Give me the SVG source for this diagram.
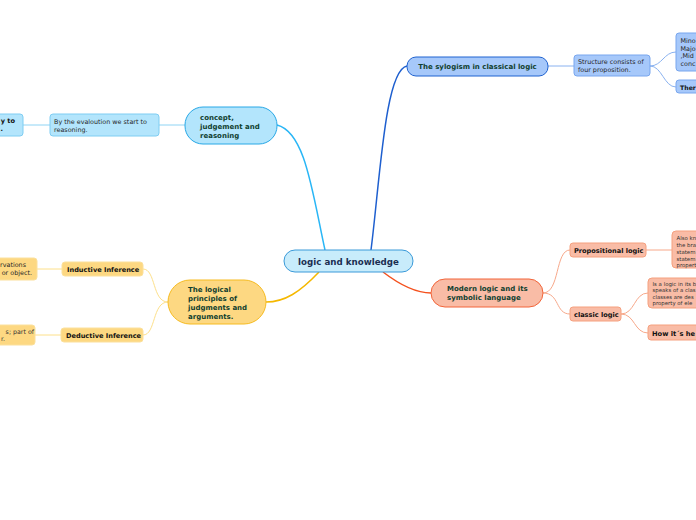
<svg xmlns="http://www.w3.org/2000/svg" width="696" height="520" viewBox="0 0 696 520">
<style>
text{font-family:"DejaVu Sans",Verdana,sans-serif}
.h{font-weight:bold;fill:#10402f;font-size:7px}
.b{font-weight:bold;fill:#111;font-size:6.6px}
.t{fill:#262626;font-size:6.4px}
.s{fill:#333;font-size:5.4px}
.blue{fill:#b3e5fc;stroke:#29a8e6;stroke-width:1}
.blue2{fill:#b3e5fc;stroke:#7fcdf2;stroke-width:1}
.dblue{fill:#a6c8fa;stroke:#1f62d0;stroke-width:1}
.dblue2{fill:#a6c8fa;stroke:#78a6ee;stroke-width:1}
.sal{fill:#f9bca6;stroke:#f2653a;stroke-width:1}
.sal2{fill:#f9bca6;stroke:#f5a07f;stroke-width:1}
.yel{fill:#fdd882;stroke:#f6bb20;stroke-width:1}
.yel2{fill:#fdd882;stroke:#fbe09c;stroke-width:1}
.c{fill:none}
</style>
<rect width="696" height="520" fill="#fff"/>
<g id="connectors" class="c">
<path d="M277,125 C305,132 312,190 325,250" stroke="#29b6f6" stroke-width="1.5"/>
<path d="M159,125 L185,125" stroke="#8fd4f4" stroke-width="1"/>
<path d="M23,125 L50,125" stroke="#8fd4f4" stroke-width="1"/>
<path d="M371,250 C380,180 385,70 407,66" stroke="#1e5fcf" stroke-width="1.5"/>
<path d="M548,66 L574,66" stroke="#8ab2f0" stroke-width="1"/>
<path d="M650,66 C662,66 664,52 676,52" stroke="#8ab2f0" stroke-width="1"/>
<path d="M650,66 C662,66 664,87 676,87" stroke="#8ab2f0" stroke-width="1"/>
<path d="M383,272 C400,285 415,293 431,293" stroke="#f4511e" stroke-width="1.5"/>
<path d="M543,293 C560,293 555,250 570,250" stroke="#f7a88a" stroke-width="1"/>
<path d="M543,293 C560,293 555,314 570,314" stroke="#f7a88a" stroke-width="1"/>
<path d="M646,250 L672,250" stroke="#f7a88a" stroke-width="1"/>
<path d="M621,314 C635,314 634,293 648,293" stroke="#f7a88a" stroke-width="1"/>
<path d="M621,314 C635,314 634,333 648,333" stroke="#f7a88a" stroke-width="1"/>
<path d="M319,272 C300,292 285,302 266,302" stroke="#f5b800" stroke-width="1.5"/>
<path d="M168,302 C152,302 156,269 143,269" stroke="#fde08a" stroke-width="1"/>
<path d="M168,302 C152,302 156,335 143,335" stroke="#fde08a" stroke-width="1"/>
<path d="M37,269 L62,269" stroke="#fde08a" stroke-width="1"/>
<path d="M35,335 L61,335" stroke="#fde08a" stroke-width="1"/>
</g>
<g id="center">
<rect x="284" y="250" width="129" height="22" rx="11" fill="#c8ecfb" stroke="#3a9ad9"/>
<text x="348.5" y="265" text-anchor="middle" style="font-weight:bold;font-size:8.7px;fill:#1c2f52">logic and knowledge</text>
</g>
<g id="concept">
<rect x="185" y="107" width="92" height="37" rx="18" class="blue"/>
<text class="h"><tspan x="200" y="120">concept,</tspan><tspan x="200" y="129">judgement and</tspan><tspan x="200" y="138">reasoning</tspan></text>
</g>
<g id="evaluation">
<rect x="50" y="114" width="109" height="22" rx="3" class="blue2"/>
<text class="t"><tspan x="54" y="124">By the evaloution we start to</tspan><tspan x="54" y="132">reasoning.</tspan></text>
</g>
<g id="leftcut1">
<rect x="-10" y="114" width="33" height="22" rx="3" class="blue2"/>
<text class="b" text-anchor="end"><tspan x="15" y="123">y to</tspan><tspan x="3" y="131">.</tspan></text>
</g>
<g id="syllogism">
<rect x="407" y="57" width="141" height="19" rx="9" class="dblue"/>
<text x="477.5" y="69" text-anchor="middle" class="h">The sylogism in classical logic</text>
</g>
<g id="structure">
<rect x="574" y="55" width="76" height="21" rx="3" class="dblue2"/>
<text class="t"><tspan x="578" y="64">Structure consists of</tspan><tspan x="578" y="72">four  proposition.</tspan></text>
</g>
<g id="minor">
<rect x="676" y="33" width="40" height="38" rx="3" class="dblue2"/>
<text class="t"><tspan x="680.5" y="43">Mino</tspan><tspan x="680.5" y="51">Majo</tspan><tspan x="680.5" y="58">,Mid</tspan><tspan x="680.5" y="66">conc</tspan></text>
</g>
<g id="ther">
<rect x="676" y="80" width="40" height="13" rx="3" class="dblue2"/>
<text x="680" y="89.5" class="b" style="font-size:6.2px">Ther</text>
</g>
<g id="modern">
<rect x="431" y="279" width="112" height="28" rx="14" class="sal"/>
<text class="h"><tspan x="447" y="291">Modern logic and its</tspan><tspan x="447" y="300">symbolic language</tspan></text>
</g>
<g id="propositional">
<rect x="570" y="243" width="76" height="14" rx="3" class="sal2"/>
<text x="574" y="252.5" class="b">Propositional logic</text>
</g>
<g id="alsoknown">
<rect x="672" y="231" width="40" height="37" rx="4" class="sal2"/>
<text class="s"><tspan x="676.5" y="240">Also kn</tspan><tspan x="676.5" y="247">the bra</tspan><tspan x="676.5" y="254">statem</tspan><tspan x="676.5" y="260.5">statem</tspan><tspan x="676.5" y="267">propert</tspan></text>
</g>
<g id="classic">
<rect x="570" y="307" width="51" height="14" rx="3" class="sal2"/>
<text x="574" y="317" class="b">classic logic</text>
</g>
<g id="isalogic">
<rect x="648" y="278" width="60" height="30" rx="4" class="sal2"/>
<text class="s"><tspan x="652.5" y="286">Is a logic in its b</tspan><tspan x="652.5" y="292">speaks of a clas</tspan><tspan x="652.5" y="299">classes are des</tspan><tspan x="652.5" y="305">property of ele</tspan></text>
</g>
<g id="howits">
<rect x="648" y="325" width="60" height="15" rx="3" class="sal2"/>
<text x="652" y="335.5" class="b" style="font-size:6.7px">How it´s he</text>
</g>
<g id="principles">
<rect x="168" y="280" width="98" height="44" rx="22" class="yel"/>
<text class="h"><tspan x="188" y="292">The logical</tspan><tspan x="188" y="301">principles of</tspan><tspan x="188" y="310">judgments and</tspan><tspan x="188" y="319">arguments.</tspan></text>
</g>
<g id="inductive">
<rect x="62" y="262" width="81" height="14" rx="3" class="yel2"/>
<text x="67" y="272" class="b">Inductive Inference</text>
</g>
<g id="deductive">
<rect x="61" y="328" width="82" height="14" rx="3" class="yel2"/>
<text x="66" y="338" class="b">Deductive Inference</text>
</g>
<g id="leftcut2">
<rect x="-10" y="258" width="47" height="22" rx="3" class="yel2"/>
<text class="t" text-anchor="end"><tspan x="26" y="267">rvations</tspan><tspan x="32" y="275">or object.</tspan></text>
</g>
<g id="leftcut3">
<rect x="-10" y="325" width="45" height="20" rx="3" class="yel2"/>
<text class="s" text-anchor="end" style="font-size:6.3px"><tspan x="34" y="333.5">s; part of</tspan><tspan x="5" y="340.5">r.</tspan></text>
</g>
</svg>
